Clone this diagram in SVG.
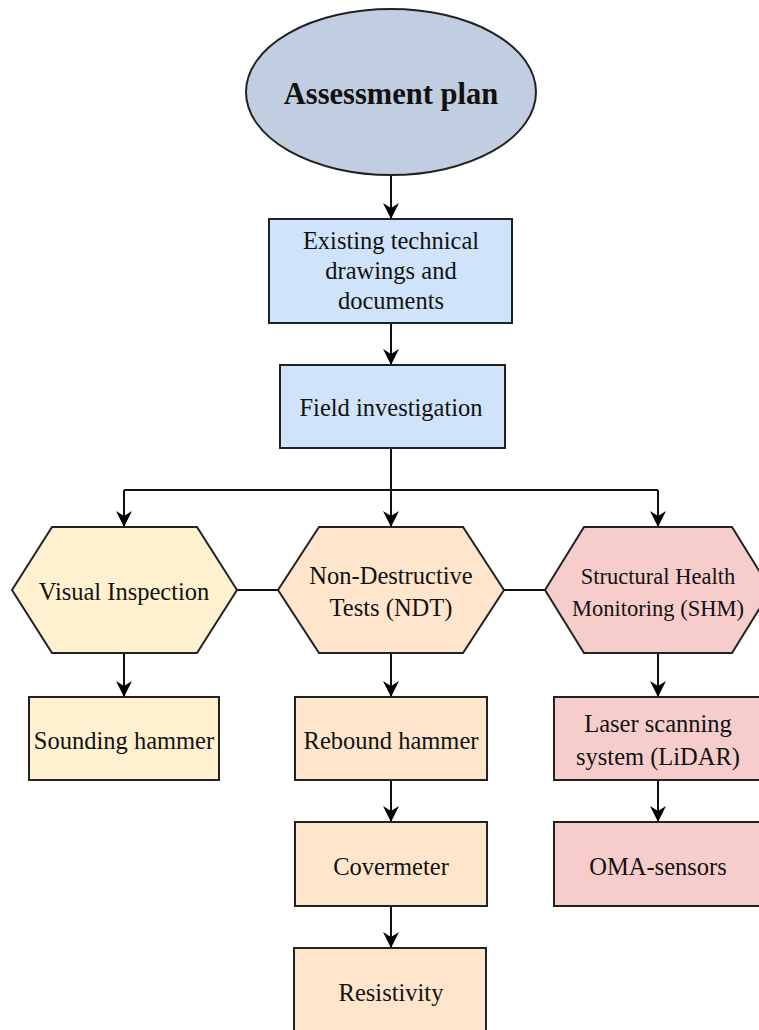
<svg xmlns="http://www.w3.org/2000/svg" width="759" height="1030" viewBox="0 0 759 1030">
  <defs>
    <marker id="arrow" viewBox="0 0 16 16" refX="16" refY="8" markerWidth="16" markerHeight="16" markerUnits="userSpaceOnUse" orient="auto">
      <path d="M0,0 L16,8 L0,16 L5,8 Z" fill="#000"/>
    </marker>
    <style>
      .shape { stroke: #222; stroke-width: 2; }
      .plan { fill: #c1cde0; }
      .blue { fill: #cfe4fb; }
      .yellow { fill: #fff1cf; }
      .orange { fill: #ffe5cc; }
      .pink { fill: #f7cdcc; }
      .label { font-family: "Liberation Serif", "Times New Roman", serif; font-size: 24.5px; fill: #111; text-anchor: middle; }
      .small { font-size: 22.5px; }
      .title { font-weight: bold; font-size: 30.5px; }
      .edge { stroke: #111; stroke-width: 2; fill: none; }
      .arrow { marker-end: url(#arrow); }
    </style>
  </defs>
  <rect width="759" height="1030" fill="#fff"/>

  <g id="connectors">
    <line class="edge arrow" x1="391" y1="175" x2="391" y2="219"/>
    <line class="edge arrow" x1="391" y1="323" x2="391" y2="365"/>
    <path class="edge" d="M391,448 V490 M124,490 H658"/>
    <line class="edge arrow" x1="124" y1="490" x2="124" y2="527"/>
    <line class="edge arrow" x1="391" y1="490" x2="391" y2="527"/>
    <line class="edge arrow" x1="658" y1="490" x2="658" y2="527"/>
    <line class="edge" x1="237" y1="590" x2="278" y2="590"/>
    <line class="edge" x1="504" y1="590" x2="545" y2="590"/>
    <line class="edge arrow" x1="124" y1="653" x2="124" y2="697"/>
    <line class="edge arrow" x1="391" y1="653" x2="391" y2="697"/>
    <line class="edge arrow" x1="658" y1="653" x2="658" y2="697"/>
    <line class="edge arrow" x1="391" y1="780" x2="391" y2="822"/>
    <line class="edge arrow" x1="391" y1="906" x2="391" y2="948"/>
    <line class="edge arrow" x1="658" y1="780" x2="658" y2="822"/>
  </g>

  <g id="assessment-plan">
    <ellipse class="shape plan" cx="391" cy="92" rx="145" ry="83"/>
    <text class="label title" x="391" y="104">Assessment plan</text>
  </g>

  <g id="existing-documents">
    <rect class="shape blue" x="269" y="219" width="243" height="104"/>
    <text class="label" x="391" y="249">Existing technical</text>
    <text class="label" x="391" y="279">drawings and</text>
    <text class="label" x="391" y="309">documents</text>
  </g>

  <g id="field-investigation">
    <rect class="shape blue" x="280" y="365" width="225" height="83"/>
    <text class="label" x="391" y="416">Field investigation</text>
  </g>

  <g id="visual-inspection">
    <polygon class="shape yellow" points="12,590 52,527 197,527 237,590 197,653 52,653"/>
    <text class="label" x="124" y="600">Visual Inspection</text>
  </g>

  <g id="ndt">
    <polygon class="shape orange" points="278,590 319,527 463,527 504,590 463,653 319,653"/>
    <text class="label" x="391" y="584">Non-Destructive</text>
    <text class="label" x="391" y="616">Tests (NDT)</text>
  </g>

  <g id="shm">
    <polygon class="shape pink" points="545,590 584,527 732,527 771,590 732,653 584,653"/>
    <text class="label small" x="658" y="584">Structural Health</text>
    <text class="label small" x="658" y="616">Monitoring (SHM)</text>
  </g>

  <g id="sounding-hammer">
    <rect class="shape yellow" x="29" y="697" width="190" height="83"/>
    <text class="label" x="124" y="749">Sounding hammer</text>
  </g>

  <g id="rebound-hammer">
    <rect class="shape orange" x="295" y="697" width="192" height="83"/>
    <text class="label" x="391" y="749">Rebound hammer</text>
  </g>

  <g id="covermeter">
    <rect class="shape orange" x="295" y="822" width="192" height="84"/>
    <text class="label" x="391" y="875">Covermeter</text>
  </g>

  <g id="resistivity">
    <rect class="shape orange" x="294" y="948" width="192" height="90"/>
    <text class="label" x="391" y="1001">Resistivity</text>
  </g>

  <g id="lidar">
    <rect class="shape pink" x="554" y="697" width="207" height="83"/>
    <text class="label" x="658" y="732">Laser scanning</text>
    <text class="label" x="658" y="765">system (LiDAR)</text>
  </g>

  <g id="oma-sensors">
    <rect class="shape pink" x="554" y="822" width="207" height="84"/>
    <text class="label" x="658" y="875">OMA-sensors</text>
  </g>
</svg>
